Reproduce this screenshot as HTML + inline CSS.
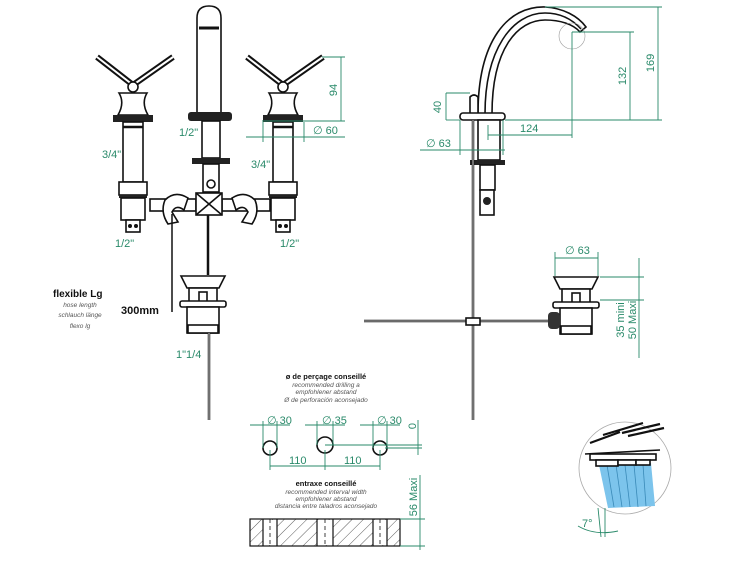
<!DOCTYPE html>
<html><head><meta charset="utf-8"><style>
html,body{margin:0;padding:0;background:#fff;width:750px;height:563px;overflow:hidden}
svg{display:block}
.k{fill:none;stroke:#111;stroke-width:1.6}
.kf{fill:#fff;stroke:#111;stroke-width:1.6}
.g{fill:none;stroke:#2a8a6a;stroke-width:0.9}
.gt{fill:#2a8a6a;font-family:"Liberation Sans",sans-serif;font-size:11px}
.bt{fill:#111;font-family:"Liberation Sans",sans-serif;font-weight:bold}
.it{fill:#555;font-family:"Liberation Sans",sans-serif;font-style:italic;font-size:6.5px}
</style></head><body>
<svg width="750" height="563" viewBox="0 0 750 563" xmlns="http://www.w3.org/2000/svg">
<defs>
<g id="handle">
 <line x1="-36" y1="-28" x2="0" y2="0" stroke="#111" stroke-width="6"/>
 <line x1="-36" y1="-28" x2="0" y2="0" stroke="#fff" stroke-width="2"/>
 <line x1="40" y1="-28" x2="0" y2="0" stroke="#111" stroke-width="6"/>
 <line x1="40" y1="-28" x2="0" y2="0" stroke="#fff" stroke-width="2"/>
 <circle cx="0" cy="2" r="5" class="kf"/>
 <path d="M-14,8 L14,8 Q8,18 15,30 L-15,30 Q-8,18 -14,8 Z" class="kf" stroke-width="2"/>
 <rect x="-20" y="30" width="40" height="7" fill="#222"/>
 <rect x="-10" y="37" width="20" height="60" class="kf" stroke-width="2"/>
 <line x1="-10" y1="42" x2="10" y2="42" stroke="#111" stroke-width="2.5"/>
 <rect x="-14" y="97" width="28" height="13" class="kf" stroke-width="2"/>
 <rect x="-14" y="110" width="28" height="3" fill="#222"/>
 <rect x="-12" y="113" width="24" height="22" class="kf" stroke-width="2"/>
 <rect x="-7" y="135" width="14" height="12" class="kf"/>
 <circle cx="-3" cy="141" r="2" fill="#111"/><circle cx="3" cy="141" r="2" fill="#111"/>
</g>
<g id="drain">
 <path d="M-22,0 L22,0 L16,12 L-16,12 Z" class="kf" stroke-width="2"/>
 <rect x="-14" y="12" width="28" height="14" class="kf"/>
 <rect x="-4" y="16" width="8" height="10" class="kf"/>
 <rect x="-23" y="25" width="46" height="6" rx="2" class="kf" stroke-width="2"/>
 <rect x="-16" y="31" width="32" height="26" class="kf" stroke-width="2"/>
 <rect x="-15" y="49" width="30" height="8" class="kf" stroke-width="2"/>
</g>
</defs>

<use href="#handle" x="133" y="85"/>
<use href="#handle" x="283" y="85"/>
<path d="M197,113 L197,18 Q197,6 209,6 Q221,6 221,18 L221,113 Z" class="kf" stroke-width="4"/>
<path d="M199,28 L219,28" stroke="#111" stroke-width="3"/>
<rect x="188" y="112" width="44" height="9" rx="3" fill="#222"/>
<rect x="202" y="121" width="18" height="37" class="kf" stroke-width="2"/>
<rect x="192" y="158" width="38" height="6" fill="#222"/>
<rect x="203" y="164" width="16" height="28" class="kf" stroke-width="2"/>
<circle cx="211" cy="184" r="4" class="k"/>
<rect x="150" y="199" width="46" height="12" class="kf" stroke-width="2"/>
<rect x="222" y="199" width="48" height="12" class="kf" stroke-width="2"/>
<rect x="196" y="193" width="26" height="22" class="kf" stroke-width="2"/>
<line x1="196" y1="193" x2="222" y2="215" class="k"/><line x1="222" y1="193" x2="196" y2="215" class="k"/>
<path d="M165,200 Q175,190 188,198 L184,210 Q176,204 172,212 L178,222 L168,224 Q160,212 165,200Z" class="kf" stroke-width="2"/>
<path d="M255,200 Q245,190 232,198 L236,210 Q244,204 248,212 L242,222 L252,224 Q260,212 255,200Z" class="kf" stroke-width="2"/>
<line x1="208" y1="215" x2="208" y2="275" stroke="#111" stroke-width="2.5"/>
<line x1="172" y1="214" x2="172" y2="312" stroke="#111" stroke-width="1.5"/>
<use href="#drain" x="203" y="276"/>
<line x1="209" y1="333" x2="209" y2="420" stroke="#111" stroke-width="2.5"/>
<line x1="209" y1="333" x2="209" y2="420" stroke="#fff" stroke-width="0.8"/>

<line x1="322" y1="57" x2="345" y2="57" class="g"/>
<line x1="262" y1="121" x2="345" y2="121" class="g"/>
<line x1="341" y1="57" x2="341" y2="121" class="g"/>
<text class="gt" transform="translate(337,90) rotate(-90)" text-anchor="middle">94</text>
<line x1="246" y1="137" x2="345" y2="137" class="g"/>
<line x1="263" y1="122" x2="263" y2="142" class="g"/><line x1="304" y1="122" x2="304" y2="142" class="g"/>
<text class="gt" x="313" y="134">∅ 60</text>
<text class="gt" x="179" y="136">1/2"</text>
<text class="gt" x="102" y="158">3/4"</text>
<text class="gt" x="251" y="168">3/4"</text>
<text class="gt" x="115" y="247">1/2"</text>
<text class="gt" x="280" y="247">1/2"</text>
<text class="gt" x="176" y="358">1"1/4</text>

<text class="bt" x="53" y="297" font-size="10">flexible Lg</text>
<text class="it" x="80" y="307" text-anchor="middle">hose length</text>
<text class="it" x="80" y="317" text-anchor="middle">schlauch länge</text>
<text class="it" x="80" y="328" text-anchor="middle">flexo lg</text>
<text class="bt" x="121" y="314" font-size="11">300mm</text>

<path d="M478,114 C478,40 508,6 545,7 C563,8 578,16 586,27 L580,32 C573,24 560,20 545,20 C518,20 492,48 492,114 Z" class="kf" stroke-width="2.8"/>
<path d="M485,114 C485,50 512,13 545,13 C560,13 572,19 581,29" class="k" stroke-width="1.2"/>
<path d="M470,113 L470,97 Q474,93 478,97 L478,113" class="kf"/>
<rect x="460" y="113" width="45" height="7" rx="3" class="kf" stroke-width="2"/>
<rect x="478" y="120" width="22" height="40" class="kf" stroke-width="2"/>
<rect x="470" y="160" width="35" height="5" fill="#222"/>
<rect x="480" y="165" width="15" height="25" class="kf" stroke-width="2"/>
<rect x="480" y="190" width="14" height="25" class="kf" stroke-width="2"/>
<circle cx="487" cy="201" r="4" fill="#222"/>
<line x1="473" y1="120" x2="473" y2="420" stroke="#111" stroke-width="2.5"/>
<line x1="473" y1="120" x2="473" y2="420" stroke="#fff" stroke-width="0.8"/>
<line x1="364" y1="321" x2="550" y2="321" stroke="#111" stroke-width="2.5"/>
<line x1="364" y1="321" x2="550" y2="321" stroke="#fff" stroke-width="0.8"/>
<rect x="466" y="318" width="14" height="7" class="kf"/>
<use href="#drain" x="576" y="277"/>
<rect x="548" y="312" width="12" height="17" rx="4" fill="#333"/>

<circle cx="572" cy="36" r="13" fill="none" stroke="#999" stroke-width="0.6"/>
<line x1="545" y1="7" x2="662" y2="7" class="g"/>
<line x1="572" y1="32" x2="634" y2="32" class="g"/>
<line x1="505" y1="120" x2="662" y2="120" class="g"/>
<line x1="658" y1="7" x2="658" y2="120" class="g"/>
<line x1="630" y1="32" x2="630" y2="120" class="g"/>
<text class="gt" transform="translate(654,63) rotate(-90)" text-anchor="middle">169</text>
<text class="gt" transform="translate(626,76) rotate(-90)" text-anchor="middle">132</text>
<line x1="572" y1="32" x2="572" y2="138" class="g"/>
<line x1="488" y1="135" x2="572" y2="135" class="g"/>
<line x1="488" y1="125" x2="488" y2="140" class="g"/>
<text class="gt" x="520" y="132">124</text>
<line x1="446" y1="93" x2="470" y2="93" class="g"/>
<line x1="446" y1="120" x2="460" y2="120" class="g"/>
<line x1="446" y1="93" x2="446" y2="120" class="g"/>
<text class="gt" transform="translate(441,107) rotate(-90)" text-anchor="middle">40</text>
<line x1="420" y1="150" x2="505" y2="150" class="g"/>
<line x1="460" y1="120" x2="460" y2="155" class="g"/><line x1="503" y1="120" x2="503" y2="155" class="g"/>
<text class="gt" x="426" y="147">∅ 63</text>
<line x1="555" y1="258" x2="598" y2="258" class="g"/>
<line x1="555" y1="252" x2="555" y2="276" class="g"/><line x1="598" y1="252" x2="598" y2="276" class="g"/>
<text class="gt" x="565" y="254">∅ 63</text>
<line x1="639" y1="258" x2="639" y2="358" class="g"/>
<line x1="600" y1="277" x2="644" y2="277" class="g"/>
<line x1="600" y1="300" x2="644" y2="300" class="g"/>
<text class="gt" transform="translate(624,320) rotate(-90)" text-anchor="middle">35  mini</text>
<text class="gt" transform="translate(636,320) rotate(-90)" text-anchor="middle">50 Maxi</text>

<!-- spray detail -->
<circle cx="625" cy="468" r="46" fill="#fff" stroke="#aaa" stroke-width="0.8"/>
<path d="M599,465 L608,508 L655,506 L651,463 Z" fill="#7cc4ec"/>
<g stroke="#3a8ab8" stroke-width="0.8"><line x1="607" y1="465" x2="614" y2="507"/><line x1="616" y1="465" x2="622" y2="507"/><line x1="625" y1="465" x2="630" y2="507"/><line x1="634" y1="465" x2="638" y2="507"/><line x1="643" y1="465" x2="646" y2="506"/></g>
<path d="M590,443 L620,432 M603,435 L643,423 M622,433 L660,424 M628,436 L664,428" stroke="#111" stroke-width="2.2"/>
<path d="M585,454 L660,450" class="k"/>
<rect x="590" y="454" width="66" height="6" class="kf"/>
<rect x="596" y="460" width="22" height="6" class="kf"/><rect x="618" y="460" width="18" height="5" class="kf"/><rect x="636" y="460" width="14" height="5" class="kf"/>
<path d="M578,526 Q595,536 618,531" class="g"/>
<line x1="598" y1="508" x2="601" y2="537" class="g"/><line x1="605" y1="508" x2="605" y2="537" class="g"/>
<text class="gt" x="582" y="527" font-size="8">7°</text>

<text class="bt" x="326" y="379" font-size="7.5" text-anchor="middle">ø de perçage conseillé</text>
<text class="it" x="326" y="387" text-anchor="middle">recommended drilling a</text>
<text class="it" x="326" y="394" text-anchor="middle">empfohlener abstand</text>
<text class="it" x="326" y="402" text-anchor="middle">Ø de perforación aconsejado</text>
<circle cx="270" cy="448" r="7" class="k"/>
<circle cx="325" cy="445" r="8" class="k"/>
<circle cx="380" cy="448" r="7" class="k"/>
<line x1="250" y1="425" x2="290" y2="425" class="g"/><line x1="263" y1="421" x2="263" y2="448" class="g"/><line x1="277" y1="421" x2="277" y2="448" class="g"/>
<line x1="305" y1="425" x2="345" y2="425" class="g"/><line x1="317" y1="421" x2="317" y2="445" class="g"/><line x1="333" y1="421" x2="333" y2="445" class="g"/>
<line x1="360" y1="425" x2="400" y2="425" class="g"/><line x1="373" y1="421" x2="373" y2="448" class="g"/><line x1="387" y1="421" x2="387" y2="448" class="g"/>
<text class="gt" x="267" y="424" font-size="8">∅ 30</text>
<text class="gt" x="322" y="424" font-size="8">∅ 35</text>
<text class="gt" x="377" y="424" font-size="8">∅ 30</text>
<line x1="270" y1="466" x2="380" y2="466" class="g"/>
<line x1="270" y1="450" x2="270" y2="470" class="g"/><line x1="325" y1="450" x2="325" y2="470" class="g"/><line x1="380" y1="450" x2="380" y2="470" class="g"/>
<text class="gt" x="289" y="464" font-size="8">110</text>
<text class="gt" x="344" y="464" font-size="8">110</text>
<line x1="325" y1="445" x2="422" y2="445" class="g"/><line x1="385" y1="448" x2="422" y2="448" class="g"/>
<line x1="418" y1="420" x2="418" y2="455" class="g"/>
<text class="gt" transform="translate(416,426) rotate(-90)" text-anchor="middle" font-size="7">0</text>

<text class="bt" x="326" y="486" font-size="7.5" text-anchor="middle">entraxe conseillé</text>
<text class="it" x="326" y="494" text-anchor="middle">recommended interval width</text>
<text class="it" x="326" y="501" text-anchor="middle">empfohlener abstand</text>
<text class="it" x="326" y="508" text-anchor="middle">distancia entre taladros aconsejado</text>
<defs><pattern id="h" width="8" height="8" patternUnits="userSpaceOnUse" patternTransform="rotate(45)"><line x1="0" y1="0" x2="0" y2="8" stroke="#333" stroke-width="0.8"/></pattern></defs>
<rect x="250" y="519" width="150" height="27" fill="url(#h)" stroke="#111" stroke-width="1.2"/>
<g fill="#fff"><rect x="263" y="520" width="14" height="25"/><rect x="317" y="520" width="16" height="25"/><rect x="373" y="520" width="14" height="25"/></g>
<g stroke="#111" stroke-width="1.2"><line x1="263" y1="519" x2="263" y2="546"/><line x1="277" y1="519" x2="277" y2="546"/><line x1="317" y1="519" x2="317" y2="546"/><line x1="333" y1="519" x2="333" y2="546"/><line x1="373" y1="519" x2="373" y2="546"/><line x1="387" y1="519" x2="387" y2="546"/></g>
<g stroke="#111" stroke-width="0.8" stroke-dasharray="4,3"><line x1="270" y1="519" x2="270" y2="546"/><line x1="325" y1="519" x2="325" y2="546"/><line x1="380" y1="519" x2="380" y2="546"/></g>
<line x1="400" y1="519" x2="425" y2="519" class="g"/><line x1="400" y1="546" x2="425" y2="546" class="g"/>
<line x1="420" y1="475" x2="420" y2="550" class="g"/>
<text class="gt" transform="translate(417,497) rotate(-90)" text-anchor="middle" font-size="7">56 Maxi</text>
</svg>
</body></html>
